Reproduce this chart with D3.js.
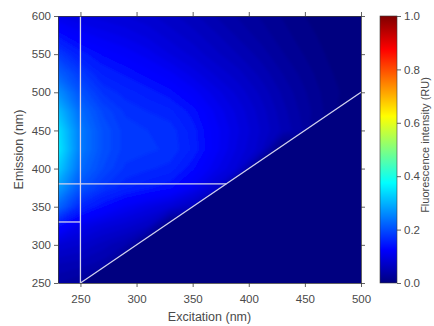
<!DOCTYPE html>
<html>
<head>
<meta charset="utf-8">
<script src="https://cdn.jsdelivr.net/npm/d3@7"></script>
<style>
  html, body { margin: 0; padding: 0; background: #fff; }
  svg { display: block; }
  text { font-family: "Liberation Sans", Arial, sans-serif; fill: #4a4a4a; }
</style>
</head>
<body>
<svg id="chart" width="434" height="326"></svg>
<script>
// ---------- data ----------
const excitation = [230, 250, 270, 290, 310, 330, 350, 370, 390, 410, 430, 450, 470, 490, 510];
const emission   = [250, 275, 300, 325, 350, 375, 400, 425, 450, 475, 500, 525, 550, 575, 600];
// rows: one per emission value (ascending), columns: excitation values
const intensity = [
  [0.04, 0.03, 0,    0,    0,    0,    0,    0,    0,    0,    0,    0,    0,    0,    0    ],
  [0.06, 0.055,0.045,0,    0,    0,    0,    0,    0,    0,    0,    0,    0,    0,    0    ],
  [0.09, 0.08, 0.065,0.05, 0,    0,    0,    0,    0,    0,    0,    0,    0,    0,    0    ],
  [0.145,0.11, 0.095,0.085,0.07, 0,    0,    0,    0,    0,    0,    0,    0,    0,    0    ],
  [0.23, 0.165,0.14, 0.12, 0.105,0.09, 0.065,0,    0,    0,    0,    0,    0,    0,    0    ],
  [0.285,0.21, 0.18, 0.163,0.152,0.142,0.118,0.085,0,    0,    0,    0,    0,    0,    0    ],
  [0.33, 0.235,0.20, 0.178,0.172,0.166,0.142,0.113,0.088,0,    0,    0,    0,    0,    0    ],
  [0.36, 0.25, 0.208,0.185,0.182,0.178,0.158,0.125,0.098,0.076,0,    0,    0,    0,    0    ],
  [0.35, 0.25, 0.208,0.185,0.18, 0.176,0.155,0.125,0.102,0.08, 0.058,0.038,0,    0,    0    ],
  [0.315,0.235,0.198,0.178,0.17, 0.163,0.145,0.118,0.097,0.076,0.054,0.035,0.017,0,    0    ],
  [0.27, 0.21, 0.178,0.165,0.155,0.143,0.125,0.105,0.087,0.068,0.048,0.031,0.015,0.006,0    ],
  [0.225,0.185,0.158,0.147,0.135,0.122,0.105,0.088,0.074,0.057,0.04, 0.025,0.012,0.004,0    ],
  [0.185,0.155,0.138,0.127,0.115,0.10, 0.087,0.073,0.06, 0.046,0.031,0.019,0.009,0,    0    ],
  [0.145,0.125,0.115,0.107,0.097,0.085,0.074,0.062,0.048,0.036,0.024,0.014,0.006,0,    0    ],
  [0.11, 0.10, 0.095,0.09, 0.083,0.073,0.063,0.05, 0.039,0.029,0.019,0.01, 0.004,0,    0    ]
];
const xTicks = [250, 300, 350, 400, 450, 500];
const yTicks = [250, 300, 350, 400, 450, 500, 550, 600];
const cbTicks = [0, 0.2, 0.4, 0.6, 0.8, 1.0];
// reference lines (data units): [ex1, em1, ex2, em2]
const guideLines = [
  [250, 250, 250, 600],
  [230, 380, 380, 380],
  [230, 330, 250, 330],
  [250, 250, 500, 500]
];
const xDomain = [230, 500];
const yDomain = [250, 600];

// ---------- layout ----------
const plot = { left: 58, right: 361, top: 16, bottom: 283 };
const cb = { left: 380, right: 397 };

const jet = t => {
  const c = v => Math.max(0, Math.min(1, v));
  const r = c(1.5 - Math.abs(4 * t - 3));
  const g = c(1.5 - Math.abs(4 * t - 2));
  const b = c(1.5 - Math.abs(4 * t - 1));
  return d3.rgb(r * 255, g * 255, b * 255).formatHex();
};

const svg = d3.select("#chart");
const x = d3.scaleLinear().domain(xDomain).range([plot.left, plot.right]);
const y = d3.scaleLinear().domain(yDomain).range([plot.bottom, plot.top]);

const defs = svg.append("defs");
defs.append("clipPath").attr("id", "plotClip")
  .append("polygon")
  .attr("points", [
      [xDomain[0], yDomain[0]], [250, yDomain[0]], [xDomain[1], xDomain[1]],
      [xDomain[1], yDomain[1]], [xDomain[0], yDomain[1]]
    ].map(p => [x(p[0]), y(p[1])].join(",")).join(" "));
const blur = defs.append("filter").attr("id", "soft")
  .attr("x", "-10%").attr("y", "-10%").attr("width", "120%").attr("height", "120%");
blur.append("feGaussianBlur").attr("stdDeviation", 1.8);

// background (zero level)
svg.append("rect")
  .attr("x", plot.left).attr("y", plot.top)
  .attr("width", plot.right - plot.left).attr("height", plot.bottom - plot.top)
  .attr("fill", jet(0));

// contours
const nX = excitation.length, nY = emission.length;
const values = intensity.flat();
const levels = d3.range(0.01, 0.4, 0.01);
const contours = d3.contours().size([nX, nY]).thresholds(levels)(values);
const gx = d3.scaleLinear().domain([0.5, nX - 0.5]).range([excitation[0], excitation[nX - 1]]);
const gy = d3.scaleLinear().domain([0.5, nY - 0.5]).range([emission[0], emission[nY - 1]]);
const proj = d3.geoTransform({
  point(px, py) { this.stream.point(x(gx(px)), y(gy(py))); }
});
const path = d3.geoPath(proj);

const outer = svg.append("g").attr("clip-path", "url(#plotClip)");
const inner = outer.append("g").attr("filter", "url(#soft)");
inner.append("rect")
  .attr("x", plot.left - 20).attr("y", plot.top - 20)
  .attr("width", plot.right - plot.left + 40).attr("height", plot.bottom - plot.top + 40)
  .attr("fill", jet(0));
inner.selectAll("path.c").data(contours).join("path")
  .attr("class", "c")
  .attr("d", path)
  .attr("fill", d => jet(d.value));

// guide lines
svg.append("g").selectAll("line").data(guideLines).join("line")
  .attr("x1", d => x(d[0])).attr("y1", d => y(d[1]))
  .attr("x2", d => x(d[2])).attr("y2", d => y(d[3]))
  .attr("stroke", "#d2d2ee").attr("stroke-width", 1.3);

// axes
const axisStyle = g => {
  g.select(".domain").attr("stroke", "#3a3a3a").attr("stroke-width", 0.8);
  g.selectAll(".tick line").attr("stroke", "#3a3a3a").attr("stroke-width", 0.8);
  g.selectAll(".tick text").style("font-size", "11.5px").attr("fill", "#4a4a4a");
};
svg.append("g").attr("transform", `translate(0,${plot.bottom})`)
  .call(d3.axisBottom(x).tickValues(xTicks).tickSize(4).tickPadding(8).tickSizeOuter(0))
  .call(axisStyle);
svg.append("g").attr("transform", `translate(0,${plot.top})`)
  .call(d3.axisTop(x).tickValues(xTicks).tickSize(4).tickFormat("").tickSizeOuter(0))
  .call(axisStyle);
svg.append("g").attr("transform", `translate(${plot.left},0)`)
  .call(d3.axisLeft(y).tickValues(yTicks).tickSize(4).tickPadding(3).tickSizeOuter(0))
  .call(axisStyle);
svg.append("g").attr("transform", `translate(${plot.right},0)`)
  .call(d3.axisRight(y).tickValues(yTicks).tickSize(4).tickFormat("").tickSizeOuter(0))
  .call(axisStyle);

svg.append("text")
  .attr("x", (plot.left + plot.right) / 2).attr("y", 321)
  .attr("text-anchor", "middle").style("font-size", "12.5px")
  .text("Excitation (nm)");
svg.append("text")
  .attr("transform", `translate(23,${(plot.top + plot.bottom) / 2}) rotate(-90)`)
  .attr("text-anchor", "middle").style("font-size", "12.5px")
  .text("Emission (nm)");

// colorbar
const cbScale = d3.scaleLinear().domain([0, 1]).range([plot.bottom, plot.top]);
const grad = defs.append("linearGradient").attr("id", "jetGrad")
  .attr("x1", 0).attr("y1", 1).attr("x2", 0).attr("y2", 0);
grad.selectAll("stop").data(d3.range(0, 1.0001, 0.025)).join("stop")
  .attr("offset", d => d).attr("stop-color", d => jet(d));
svg.append("rect")
  .attr("x", cb.left).attr("y", cbScale(1))
  .attr("width", cb.right - cb.left).attr("height", cbScale(0) - cbScale(1))
  .attr("fill", "url(#jetGrad)")
  .attr("stroke", "#3a3a3a").attr("stroke-width", 0.6);
svg.append("g").attr("transform", `translate(${cb.right},0)`)
  .call(d3.axisRight(cbScale).tickValues(cbTicks).tickSize(4).tickPadding(3)
        .tickFormat(d3.format(".1f")).tickSizeOuter(0))
  .call(axisStyle)
  .call(g => g.select(".domain").remove());
svg.append("text")
  .attr("transform", `translate(429,145) rotate(-90)`)
  .attr("text-anchor", "middle").style("font-size", "11px")
  .text("Fluorescence intensity (RU)");
</script>
</body>
</html>
